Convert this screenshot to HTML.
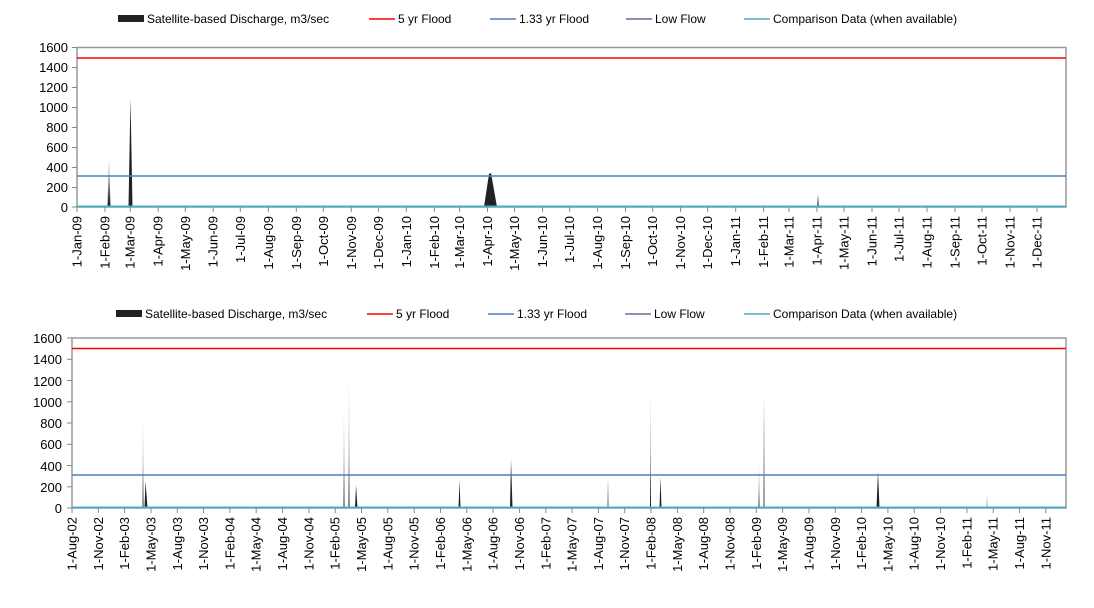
<!DOCTYPE html>
<html><head><meta charset="utf-8"><style>
html,body{margin:0;padding:0;background:#fff;}
svg{display:block;font-family:"Liberation Sans",Arial,sans-serif;}
</style></head><body>
<svg width="1094" height="608" viewBox="0 0 1094 608" xmlns="http://www.w3.org/2000/svg">
<defs>
<linearGradient id="g1" x1="0" y1="0" x2="0" y2="1"><stop offset="0" stop-color="#fff"/><stop offset="0.6" stop-color="#888"/><stop offset="1" stop-color="#111"/></linearGradient>
</defs>
<g font-size="12" fill="#000">
<rect x="118" y="15" width="26" height="7" fill="#222"/>
<text x="147" y="23">Satellite-based Discharge, m3/sec</text>
<line x1="369" y1="19" x2="395" y2="19" stroke="#f00" stroke-width="1.5"/>
<text x="398" y="23">5 yr Flood</text>
<line x1="490" y1="19" x2="516" y2="19" stroke="#4a7ebb" stroke-width="1.5"/>
<text x="519" y="23">1.33 yr Flood</text>
<line x1="626" y1="19" x2="652" y2="19" stroke="#7d60a0" stroke-width="1.5"/>
<text x="655" y="23">Low Flow</text>
<line x1="744" y1="19" x2="770" y2="19" stroke="#4bacc6" stroke-width="1.5"/>
<text x="773" y="23">Comparison Data (when available)</text>
</g>
<rect x="77" y="47.5" width="989" height="159.5" fill="#fff" stroke="#999" stroke-width="1.5"/>
<g font-size="13" text-anchor="end" fill="#000">
<text x="68" y="52">1600</text><text x="68" y="72">1400</text><text x="68" y="92">1200</text>
<text x="68" y="112">1000</text><text x="68" y="132">800</text><text x="68" y="152">600</text>
<text x="68" y="172">400</text><text x="68" y="192">200</text><text x="68" y="212">0</text>
</g>
<g stroke="#888" stroke-width="1">
<line x1="72" y1="47.5" x2="77" y2="47.5"/><line x1="72" y1="67.5" x2="77" y2="67.5"/><line x1="72" y1="87.5" x2="77" y2="87.5"/><line x1="72" y1="107.5" x2="77" y2="107.5"/><line x1="72" y1="127.5" x2="77" y2="127.5"/><line x1="72" y1="147.5" x2="77" y2="147.5"/><line x1="72" y1="167.5" x2="77" y2="167.5"/><line x1="72" y1="187.5" x2="77" y2="187.5"/><line x1="72" y1="207" x2="77" y2="207"/>
</g>
<polygon points="107.5,207 109,152 110.5,207" fill="url(#g1)"/>
<polygon points="128.5,207 130.5,98 132.5,207" fill="#222"/>
<polygon points="484,207 489,174 491,173 497,207" fill="#222"/>
<polygon points="817,207 818,194 819,207" fill="#555"/>
<line x1="77" y1="58" x2="1066" y2="58" stroke="#f00" stroke-width="1.5"/>
<line x1="77" y1="176" x2="1066" y2="176" stroke="#4a7ebb" stroke-width="1.5"/>
<line x1="77" y1="206.5" x2="1066" y2="206.5" stroke="#4bacc6" stroke-width="2"/>
<g stroke="#888" stroke-width="1">
<path d="M77 207v5M105 207v5M130.2 207v5M158.2 207v5M185.3 207v5M213.2 207v5M240.3 207v5M268.3 207v5M296.3 207v5M323.3 207v5M351.3 207v5M378.4 207v5M406.3 207v5M434.3 207v5M459.6 207v5M487.5 207v5M514.6 207v5M542.6 207v5M569.7 207v5M597.6 207v5M625.6 207v5M652.7 207v5M680.6 207v5M707.7 207v5M735.7 207v5M763.6 207v5M788.9 207v5M816.9 207v5M844 207v5M872 207v5M899 207v5M927 207v5M955 207v5M982 207v5M1010 207v5M1037 207v5"/>
</g>
<g font-size="13" text-anchor="end" fill="#000">
<text transform="translate(81.5,216) rotate(-90)">1-Jan-09</text>
<text transform="translate(109.5,216) rotate(-90)">1-Feb-09</text>
<text transform="translate(134.7,216) rotate(-90)">1-Mar-09</text>
<text transform="translate(162.7,216) rotate(-90)">1-Apr-09</text>
<text transform="translate(189.8,216) rotate(-90)">1-May-09</text>
<text transform="translate(217.7,216) rotate(-90)">1-Jun-09</text>
<text transform="translate(244.8,216) rotate(-90)">1-Jul-09</text>
<text transform="translate(272.8,216) rotate(-90)">1-Aug-09</text>
<text transform="translate(300.8,216) rotate(-90)">1-Sep-09</text>
<text transform="translate(327.8,216) rotate(-90)">1-Oct-09</text>
<text transform="translate(355.8,216) rotate(-90)">1-Nov-09</text>
<text transform="translate(382.9,216) rotate(-90)">1-Dec-09</text>
<text transform="translate(410.8,216) rotate(-90)">1-Jan-10</text>
<text transform="translate(438.8,216) rotate(-90)">1-Feb-10</text>
<text transform="translate(464.1,216) rotate(-90)">1-Mar-10</text>
<text transform="translate(492,216) rotate(-90)">1-Apr-10</text>
<text transform="translate(519.1,216) rotate(-90)">1-May-10</text>
<text transform="translate(547.1,216) rotate(-90)">1-Jun-10</text>
<text transform="translate(574.2,216) rotate(-90)">1-Jul-10</text>
<text transform="translate(602.1,216) rotate(-90)">1-Aug-10</text>
<text transform="translate(630.1,216) rotate(-90)">1-Sep-10</text>
<text transform="translate(657.2,216) rotate(-90)">1-Oct-10</text>
<text transform="translate(685.1,216) rotate(-90)">1-Nov-10</text>
<text transform="translate(712.2,216) rotate(-90)">1-Dec-10</text>
<text transform="translate(740.2,216) rotate(-90)">1-Jan-11</text>
<text transform="translate(768.1,216) rotate(-90)">1-Feb-11</text>
<text transform="translate(793.4,216) rotate(-90)">1-Mar-11</text>
<text transform="translate(821.4,216) rotate(-90)">1-Apr-11</text>
<text transform="translate(848.5,216) rotate(-90)">1-May-11</text>
<text transform="translate(876.5,216) rotate(-90)">1-Jun-11</text>
<text transform="translate(903.5,216) rotate(-90)">1-Jul-11</text>
<text transform="translate(931.5,216) rotate(-90)">1-Aug-11</text>
<text transform="translate(959.5,216) rotate(-90)">1-Sep-11</text>
<text transform="translate(986.5,216) rotate(-90)">1-Oct-11</text>
<text transform="translate(1014.5,216) rotate(-90)">1-Nov-11</text>
<text transform="translate(1041.5,216) rotate(-90)">1-Dec-11</text>
</g>

<g font-size="12" fill="#000">
<rect x="116" y="310" width="26" height="7" fill="#222"/>
<text x="145" y="318">Satellite-based Discharge, m3/sec</text>
<line x1="367" y1="314" x2="393" y2="314" stroke="#f00" stroke-width="1.5"/>
<text x="396" y="318">5 yr Flood</text>
<line x1="488" y1="314" x2="514" y2="314" stroke="#4a7ebb" stroke-width="1.5"/>
<text x="517" y="318">1.33 yr Flood</text>
<line x1="625" y1="314" x2="651" y2="314" stroke="#7d60a0" stroke-width="1.5"/>
<text x="654" y="318">Low Flow</text>
<line x1="744" y1="314" x2="770" y2="314" stroke="#4bacc6" stroke-width="1.5"/>
<text x="773" y="318">Comparison Data (when available)</text>
</g>
<rect x="72" y="338" width="994" height="170" fill="#fff" stroke="#999" stroke-width="1.5"/>
<g font-size="13" text-anchor="end" fill="#000">
<text x="62" y="343">1600</text><text x="62" y="364">1400</text><text x="62" y="386">1200</text>
<text x="62" y="407">1000</text><text x="62" y="428">800</text><text x="62" y="449">600</text>
<text x="62" y="471">400</text><text x="62" y="492">200</text><text x="62" y="513">0</text>
</g>
<g stroke="#888" stroke-width="1">
<line x1="67" y1="338" x2="72" y2="338"/><line x1="67" y1="359.3" x2="72" y2="359.3"/><line x1="67" y1="380.5" x2="72" y2="380.5"/><line x1="67" y1="401.8" x2="72" y2="401.8"/><line x1="67" y1="423" x2="72" y2="423"/><line x1="67" y1="444.3" x2="72" y2="444.3"/><line x1="67" y1="465.5" x2="72" y2="465.5"/><line x1="67" y1="486.8" x2="72" y2="486.8"/><line x1="67" y1="508" x2="72" y2="508"/>
</g>
<polygon points="142.5,508 143,409 143.5,508" fill="url(#g1)"/>
<polygon points="144.5,508 145.5,481 147.5,508" fill="#222"/>
<polygon points="343.5,508 344,393 344.5,508" fill="url(#g1)"/>
<polygon points="348.5,508 349,361 349.5,508" fill="url(#g1)"/>
<polygon points="355,508 356,485 357.5,508" fill="#222"/>
<polygon points="458.5,508 459.5,480 460.5,508" fill="#222"/>
<polygon points="510,508 511,459 512.5,508" fill="#222"/>
<polygon points="607.5,508 608,477 608.5,508" fill="#444"/>
<polygon points="650,508 650.5,377 651,508" fill="url(#g1)"/>
<polygon points="659.5,508 660.5,477 661.5,508" fill="#222"/>
<polygon points="758.5,508 759,455 759.5,508" fill="url(#g1)"/>
<polygon points="763.5,508 764,396 764.5,508" fill="#333"/>
<polygon points="876.5,508 878,471 879.5,508" fill="#222"/>
<polygon points="986.5,508 987,495 987.5,508" fill="#888"/>
<line x1="72" y1="348.5" x2="1066" y2="348.5" stroke="#f00" stroke-width="1.5"/>
<line x1="72" y1="475" x2="1066" y2="475" stroke="#4a7ebb" stroke-width="1.5"/>
<line x1="72" y1="507.5" x2="1066" y2="507.5" stroke="#4bacc6" stroke-width="2"/>
<g stroke="#888" stroke-width="1">
<path d="M72 508v5M98.3 508v5M124.6 508v5M151 508v5M177.3 508v5M203.6 508v5M229.9 508v5M256.2 508v5M282.6 508v5M308.9 508v5M335.2 508v5M361.5 508v5M387.8 508v5M414.2 508v5M440.5 508v5M466.8 508v5M493.1 508v5M519.4 508v5M545.8 508v5M572.1 508v5M598.4 508v5M624.7 508v5M651 508v5M677.4 508v5M703.7 508v5M730 508v5M756.3 508v5M782.6 508v5M809 508v5M835.3 508v5M861.6 508v5M887.9 508v5M914.2 508v5M940.6 508v5M966.9 508v5M993.2 508v5M1019.5 508v5M1045.8 508v5"/>
</g>
<g font-size="13" text-anchor="end" fill="#000">
<text transform="translate(76.5,517) rotate(-90)">1-Aug-02</text>
<text transform="translate(102.8,517) rotate(-90)">1-Nov-02</text>
<text transform="translate(129.1,517) rotate(-90)">1-Feb-03</text>
<text transform="translate(155.5,517) rotate(-90)">1-May-03</text>
<text transform="translate(181.8,517) rotate(-90)">1-Aug-03</text>
<text transform="translate(208.1,517) rotate(-90)">1-Nov-03</text>
<text transform="translate(234.4,517) rotate(-90)">1-Feb-04</text>
<text transform="translate(260.7,517) rotate(-90)">1-May-04</text>
<text transform="translate(287.1,517) rotate(-90)">1-Aug-04</text>
<text transform="translate(313.4,517) rotate(-90)">1-Nov-04</text>
<text transform="translate(339.7,517) rotate(-90)">1-Feb-05</text>
<text transform="translate(366,517) rotate(-90)">1-May-05</text>
<text transform="translate(392.3,517) rotate(-90)">1-Aug-05</text>
<text transform="translate(418.7,517) rotate(-90)">1-Nov-05</text>
<text transform="translate(445,517) rotate(-90)">1-Feb-06</text>
<text transform="translate(471.3,517) rotate(-90)">1-May-06</text>
<text transform="translate(497.6,517) rotate(-90)">1-Aug-06</text>
<text transform="translate(523.9,517) rotate(-90)">1-Nov-06</text>
<text transform="translate(550.3,517) rotate(-90)">1-Feb-07</text>
<text transform="translate(576.6,517) rotate(-90)">1-May-07</text>
<text transform="translate(602.9,517) rotate(-90)">1-Aug-07</text>
<text transform="translate(629.2,517) rotate(-90)">1-Nov-07</text>
<text transform="translate(655.5,517) rotate(-90)">1-Feb-08</text>
<text transform="translate(681.9,517) rotate(-90)">1-May-08</text>
<text transform="translate(708.2,517) rotate(-90)">1-Aug-08</text>
<text transform="translate(734.5,517) rotate(-90)">1-Nov-08</text>
<text transform="translate(760.8,517) rotate(-90)">1-Feb-09</text>
<text transform="translate(787.1,517) rotate(-90)">1-May-09</text>
<text transform="translate(813.5,517) rotate(-90)">1-Aug-09</text>
<text transform="translate(839.8,517) rotate(-90)">1-Nov-09</text>
<text transform="translate(866.1,517) rotate(-90)">1-Feb-10</text>
<text transform="translate(892.4,517) rotate(-90)">1-May-10</text>
<text transform="translate(918.7,517) rotate(-90)">1-Aug-10</text>
<text transform="translate(945.1,517) rotate(-90)">1-Nov-10</text>
<text transform="translate(971.4,517) rotate(-90)">1-Feb-11</text>
<text transform="translate(997.7,517) rotate(-90)">1-May-11</text>
<text transform="translate(1024,517) rotate(-90)">1-Aug-11</text>
<text transform="translate(1050.3,517) rotate(-90)">1-Nov-11</text>
</g>
</svg>
</body></html>
